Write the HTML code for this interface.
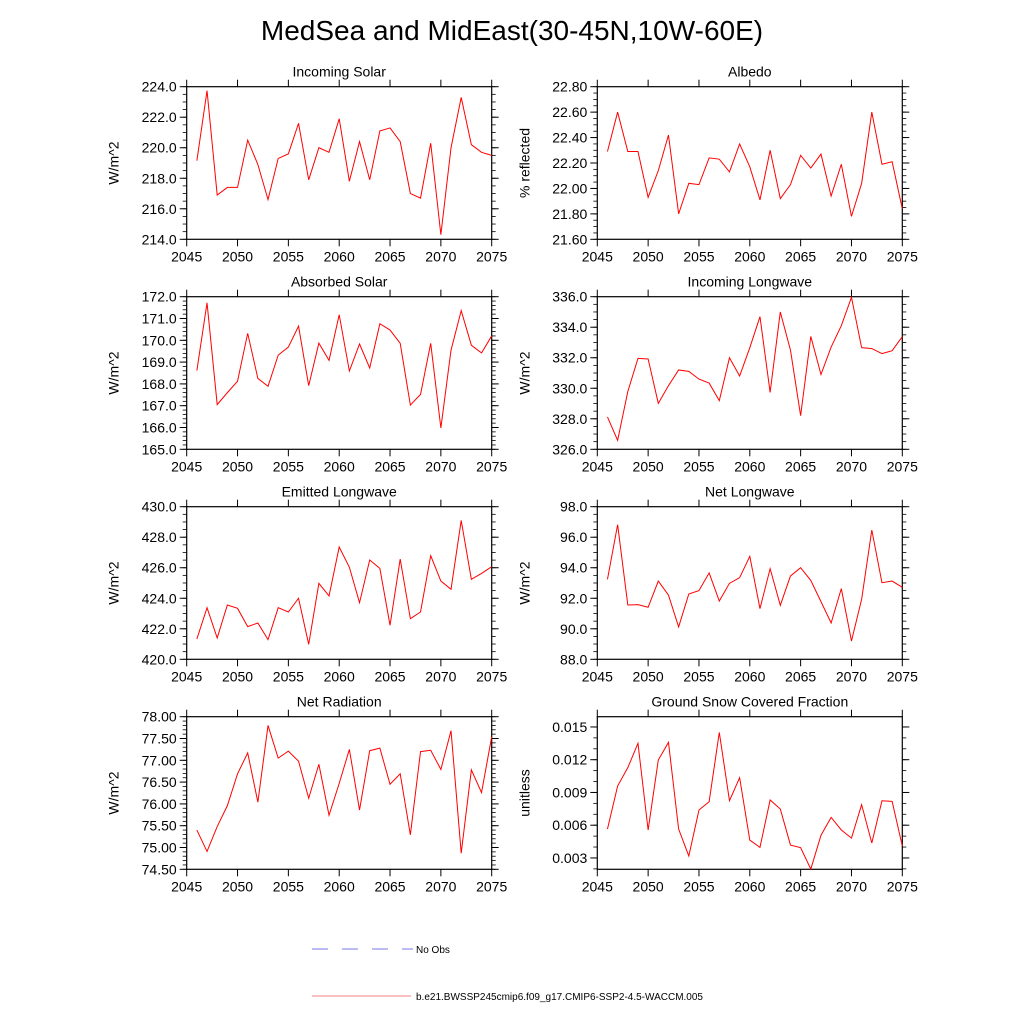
<!DOCTYPE html>
<html><head><meta charset="utf-8"><style>
html,body{margin:0;padding:0;background:#fff;}
svg{display:block;font-family:"Liberation Sans",Arial,sans-serif;}
</style></head><body>
<svg id="chart" width="1024" height="1024" viewBox="0 0 1024 1024" xmlns="http://www.w3.org/2000/svg">
<text x="512" y="40" font-size="28" text-anchor="middle">MedSea and MidEast(30-45N,10W-60E)</text>
<g>
<line x1="312" y1="949" x2="413" y2="949" stroke="#7777ee" stroke-width="1" stroke-dasharray="16,14"/>
<text x="416" y="953" font-size="10">No Obs</text>
<line x1="312" y1="996" x2="411" y2="996" stroke="#f08080" stroke-width="1"/>
<text x="416" y="1000" font-size="10">b.e21.BWSSP245cmip6.f09_g17.CMIP6-SSP2-4.5-WACCM.005</text>
</g>
</svg>
<script>
const years = [2046,2047,2048,2049,2050,2051,2052,2053,2054,2055,2056,2057,2058,2059,2060,2061,2062,2063,2064,2065,2066,2067,2068,2069,2070,2071,2072,2073,2074,2075];
const xTicks = [2045,2050,2055,2060,2065,2070,2075];
const incomingSolar = [219.15,223.74,216.9,217.4,217.4,220.5,218.9,216.6,219.3,219.6,221.6,217.9,220.0,219.7,221.9,217.8,220.4,217.9,221.1,221.3,220.4,217.0,216.7,220.3,214.3,220.0,223.3,220.2,219.7,219.5];
const albedo = [22.29,22.60,22.29,22.29,21.93,22.14,22.42,21.80,22.04,22.03,22.24,22.23,22.13,22.35,22.17,21.91,22.30,21.92,22.03,22.26,22.16,22.27,21.94,22.19,21.78,22.04,22.60,22.19,22.21,21.84];
const absorbedSolar = [168.61,171.72,167.05,167.6,168.12,170.32,168.25,167.89,169.32,169.69,170.65,167.92,169.87,169.08,171.17,168.59,169.83,168.73,170.76,170.47,169.86,167.03,167.52,169.86,165.98,169.55,171.36,169.77,169.42,170.2];
const incomingLW = [328.12,326.59,329.78,331.96,331.92,329.01,330.17,331.2,331.11,330.6,330.34,329.19,332.0,330.8,332.66,334.69,329.73,335.0,332.5,328.2,333.4,330.9,332.7,334.1,335.96,332.66,332.6,332.27,332.46,333.38];
const emittedLW = [421.33,423.38,421.4,423.56,423.34,422.14,422.38,421.29,423.38,423.1,424.0,420.98,424.98,424.15,427.36,426.03,423.71,426.51,425.96,422.23,426.57,422.66,423.1,426.79,425.13,424.59,429.1,425.24,425.63,426.07];
const netLW = [93.24,96.82,91.56,91.58,91.41,93.13,92.21,90.12,92.28,92.5,93.66,91.82,92.98,93.35,94.75,91.32,93.94,91.54,93.46,94.0,93.17,91.78,90.38,92.63,89.2,91.93,96.47,93.02,93.13,92.72];
const netRad = [75.40,74.91,75.48,75.96,76.69,77.17,76.04,77.80,77.05,77.21,76.98,76.13,76.91,75.74,76.47,77.25,75.86,77.22,77.28,76.45,76.69,75.29,77.2,77.23,76.79,77.68,74.87,76.78,76.26,77.54];
const snowFrac = [0.00565,0.00959,0.01127,0.01350,0.00556,0.01197,0.01359,0.00565,0.00318,0.00739,0.00815,0.01450,0.00824,0.01035,0.00464,0.00397,0.00831,0.00748,0.00418,0.00394,0.00198,0.00507,0.00672,0.00556,0.00482,0.00788,0.00437,0.00824,0.00818,0.00409];

const panels = [
 {name:'incoming-solar',title:'Incoming Solar',yl:'W/m^2',data:incomingSolar,ymin:214,ymax:224,major:2,minor:0.5,dec:1,col:0,row:0},
 {name:'albedo',title:'Albedo',yl:'% reflected',data:albedo,ymin:21.6,ymax:22.8,major:0.2,minor:0.05,dec:2,col:1,row:0},
 {name:'absorbed-solar',title:'Absorbed Solar',yl:'W/m^2',data:absorbedSolar,ymin:165,ymax:172,major:1,minor:0.2,dec:1,col:0,row:1},
 {name:'incoming-longwave',title:'Incoming Longwave',yl:'W/m^2',data:incomingLW,ymin:326,ymax:336,major:2,minor:0.5,dec:1,col:1,row:1},
 {name:'emitted-longwave',title:'Emitted Longwave',yl:'W/m^2',data:emittedLW,ymin:420,ymax:430,major:2,minor:0.5,dec:1,col:0,row:2},
 {name:'net-longwave',title:'Net Longwave',yl:'W/m^2',data:netLW,ymin:88,ymax:98,major:2,minor:0.5,dec:1,col:1,row:2},
 {name:'net-radiation',title:'Net Radiation',yl:'W/m^2',data:netRad,ymin:74.5,ymax:78,major:0.5,minor:0.1,dec:2,col:0,row:3},
 {name:'snow-fraction',title:'Ground Snow Covered Fraction',yl:'unitless',data:snowFrac,ymin:0.00196,ymax:0.01594,major:0.003,minor:0.001,dec:3,col:1,row:3,tickStart:0.003,minorStart:0.002}
];
const NS='http://www.w3.org/2000/svg';
const svg=document.getElementById('chart');
function mk(tag,attrs,parent){const e=document.createElementNS(NS,tag);for(const k in attrs)e.setAttribute(k,attrs[k]);parent.appendChild(e);return e;}
const colX=[186.7,597.3], W=305, rowY=[86.7,296.7,506.7,716.7], H=152.6;
panels.forEach(p=>{
  const L=colX[p.col], T=rowY[p.row], B=T+H, R=L+W;
  const g=mk('g',{},svg);
  
  
  const xs=v=>L+(v-2045)/30*W;
  const ys=v=>B-(v-p.ymin)/(p.ymax-p.ymin)*H;
  const t=mk('text',{x:(L+R)/2,y:T-10,'font-size':14,'text-anchor':'middle'},g);
  t.textContent=p.title;
  
  
  const ax=mk('rect',{x:L,y:T,width:W,height:H,fill:'none',stroke:'#000','stroke-width':1.2},g);
  
  
  xTicks.forEach(v=>{
    const x=xs(v);
    mk('line',{x1:x,y1:B,x2:x,y2:B+7,stroke:'#000','stroke-width':1},g);
    mk('line',{x1:x,y1:T,x2:x,y2:T-7,stroke:'#000','stroke-width':1},g);
    const lb=mk('text',{x:x,y:B+22,'font-size':14,'text-anchor':'middle'},g);
    lb.textContent=v;
    
    
  });
  const ms=p.minorStart!==undefined?p.minorStart:p.ymin;
  for(let v=ms; v<=p.ymax+1e-9; v+=p.minor){
    const y=ys(v);
    if(y<T-0.5||y>B+0.5)continue;
    mk('line',{x1:L,y1:y,x2:L-4,y2:y,stroke:'#000','stroke-width':0.8},g);
    mk('line',{x1:R,y1:y,x2:R+4,y2:y,stroke:'#000','stroke-width':0.8},g);
  }
  const ts=p.tickStart!==undefined?p.tickStart:p.ymin;
  for(let v=ts; v<=p.ymax+1e-9; v+=p.major){
    const y=ys(v);
    mk('line',{x1:L,y1:y,x2:L-7,y2:y,stroke:'#000','stroke-width':1},g);
    mk('line',{x1:R,y1:y,x2:R+7,y2:y,stroke:'#000','stroke-width':1},g);
    const lb=mk('text',{x:L-10,y:y+5,'font-size':14,'text-anchor':'end'},g);
    lb.textContent=v.toFixed(p.dec);
    
    
  }
  const yt=mk('text',{x:0,y:0,'font-size':14,'text-anchor':'middle',transform:`translate(${L-68},${(T+B)/2}) rotate(-90)`},g);
  yt.textContent=p.yl;
  
  
  const pts=p.data.map((v,i)=>xs(years[i]).toFixed(2)+','+ys(v).toFixed(2)).join(' ');
  const line=mk('polyline',{points:pts,fill:'none',stroke:'#ff0000','stroke-width':1},g);
  
  
});
</script>
</body></html>
